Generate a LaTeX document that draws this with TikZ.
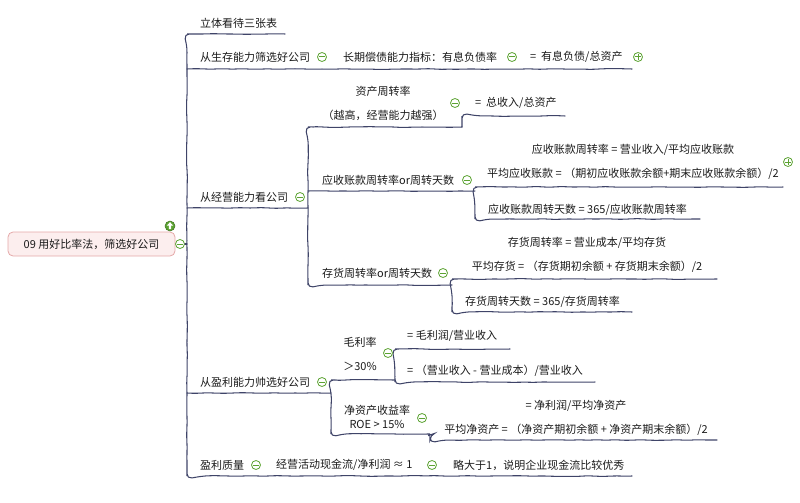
\documentclass[tikz,border=0pt]{standalone}
\usepackage{fontspec}
\setmainfont{Noto Sans CJK SC}
\usetikzlibrary{decorations.pathmorphing}
\definecolor{linec}{HTML}{3F4468}
\definecolor{txt}{HTML}{1A1A1A}
\definecolor{ig}{HTML}{5CA332}
\definecolor{rootfill}{HTML}{FCEEEE}
\definecolor{rootdraw}{HTML}{E5A8A8}
\begin{document}
\begin{tikzpicture}[x=1pt,y=-1pt,
  every node/.style={text=txt},
  lbl/.style={anchor=west, inner sep=0pt, font=\fontsize{11}{13}\selectfont},
  mlbl/.style={align=center, inner sep=0pt, font=\fontsize{11}{24}\selectfont},
  conn/.style={draw=linec, line width=1.05pt, rounded corners=5pt, line cap=round,
    decorate, decoration={random steps, segment length=9pt, amplitude=0.45pt}},
  minusicon/.style={circle, draw=ig, fill=white, line width=0.8pt, minimum size=9pt, inner sep=0pt,
    path picture={\draw[ig, line width=1pt] ([xshift=-2.6pt]path picture bounding box.center) -- ([xshift=2.6pt]path picture bounding box.center);}},
  plusicon/.style={circle, draw=ig, fill=white, line width=0.8pt, minimum size=9pt, inner sep=0pt,
    path picture={\draw[ig, line width=1pt] ([xshift=-2.6pt]path picture bounding box.center) -- ([xshift=2.6pt]path picture bounding box.center) ([yshift=-2.6pt]path picture bounding box.center) -- ([yshift=2.6pt]path picture bounding box.center);}},
]
\useasboundingbox (0,0) rectangle (800,503);

% ---------- connectors ----------
\coordinate (a1) at (285,34);
\coordinate (trT) at (187,34);
\coordinate (trB) at (187,476);
\coordinate (a5) at (632,476);
\coordinate (a2) at (632,69);
\coordinate (a3) at (308,208);
\coordinate (a4) at (331,393);
\coordinate (b1) at (462,127);
\coordinate (b1c) at (565,116);
\coordinate (bT) at (308,127);
\coordinate (bB) at (308,285);
\coordinate (b2) at (475,191);
\coordinate (b3) at (452,285);
\coordinate (c1) at (783,187);
\coordinate (c2) at (700,219);
\coordinate (d1) at (717,279);
\coordinate (d2) at (632,312);
\coordinate (e1) at (395,380);
\coordinate (e2) at (430,434);
\coordinate (e2c) at (717,440);
\coordinate (f1) at (510,349);
\coordinate (f2) at (595,382);

\draw[conn] (a1) -- (trT) -- (trB) -- (a5);
\draw[conn] (a2 -| trT) -- (a2);
\draw[conn] (a3 -| trT) -- (a3);
\draw[conn] (a4 -| trT) -- (a4);
\draw[conn] (b1) -- (bT) -- (bB) -- (b3);
\draw[conn] (b1) -- (b1 |- b1c) -- (b1c);
\draw[conn] (b2 -| bT) -- (b2);
\draw[conn] (c1) -- (c1 -| b2) -- (c2 -| b2) -- (c2);
\draw[conn] (d1) -- (d1 -| b3) -- (d2 -| b3) -- (d2);
\draw[conn] (e1) -- (e1 -| a4) -- (e2 -| a4) -- (e2) -- (e2 |- e2c) -- (e2c);
\draw[conn] (f1) -- (f1 -| e1) -- (f2 -| e1) -- (f2);

% ---------- root ----------
\node[draw=rootdraw, fill=rootfill, rounded corners=5pt, minimum width=167pt, minimum height=24pt,
  line width=0.8pt, font=\fontsize{11}{13}\selectfont] (root) at (91.5,244) {09 用好比率法，筛选好公司};
\node[minusicon] (rootm) at (180,244) {};
\draw[conn] (rootm.east) -- (rootm.east -| trT);
\node[circle, fill=ig, draw=ig!70!black, line width=0.5pt, minimum size=10pt, inner sep=0pt] (up) at (170,226) {};
\begin{scope}[shift={(up.center)}]
  \fill[white] (0,-3.8) -- (3.2,-0.4) -- (1.2,-0.4) -- (1.2,3.2) -- (-1.2,3.2) -- (-1.2,-0.4) -- (-3.2,-0.4) -- cycle;
\end{scope}

% ---------- level 1 ----------
\node[lbl] (n1) at (200,23) {立体看待三张表};
\node[lbl] (n2) at (200,57) {从生存能力筛选好公司};
\node[minusicon] (m2) at (322,57) {};
\node[lbl] (n2a) at (343,57) {长期偿债能力指标：有息负债率};
\node[minusicon] (m2a) at (512,57) {};
\node[lbl] (n2b) at (530,57) {=\ \ 有息负债/总资产};
\node[plusicon] (p2b) at (638,57) {};

\node[lbl] (n3) at (200,197) {从经营能力看公司};
\node[minusicon] (m3) at (300,197) {};
\node[mlbl] (n3a) at (383,103) {资产周转率\\（越高，经营能力越强）};
\node[minusicon] (m3a) at (455,103) {};
\node[lbl] (n3a1) at (475,103) {=\ \ 总收入/总资产};

\node[lbl] (n3b) at (322,180) {应收账款周转率or周转天数};
\node[minusicon] (m3b) at (467,180) {};
\node[mlbl] (n3b1) at (633,161.5) {应收账款周转率 = 营业收入/平均应收账款\\平均应收账款 = （期初应收账款余额+期末应收账款余额）/2};
\node[plusicon] (p3b1) at (788,162) {};
\node[lbl] (n3b2) at (488,210) {应收账款周转天数 = 365/应收账款周转率};

\node[lbl] (n3c) at (322,273) {存货周转率or周转天数};
\node[minusicon] (m3c) at (443,273) {};
\node[mlbl] (n3c1) at (587,255) {存货周转率 = 营业成本/平均存货\\平均存货 = （存货期初余额 + 存货期末余额）/2};
\node[lbl] (n3c2) at (465,302) {存货周转天数 = 365/存货周转率};

\node[lbl] (n4) at (200,382) {从盈利能力帅选好公司};
\node[minusicon] (m4) at (322,382) {};
\node[mlbl] (n4a) at (360,353.5) {毛利率\\＞30\%};
\node[minusicon] (m4a) at (388,353) {};
\node[lbl] (n4a1) at (407,336) {= 毛利润/营业收入};
\node[lbl] (n4a2) at (407,371) {= （营业收入 - 营业成本）/营业收入};
\node[align=center, inner sep=0pt, font=\fontsize{11}{14}\selectfont] (n4b) at (377,417) {净资产收益率\\ROE > 15\%};
\node[minusicon] (m4b) at (422,418) {};
\node[mlbl] (n4b1) at (576,418) {= 净利润/平均净资产\\平均净资产 = （净资产期初余额 + 净资产期末余额）/2};

\node[lbl] (n5) at (200,465) {盈利质量};
\node[minusicon] (m5) at (256,465) {};
\node[lbl] (n5a) at (276,465) {经营活动现金流/净利润 ≈ 1};
\node[minusicon] (m5a) at (432,465) {};
\node[lbl] (n5b) at (453,465) {略大于1，说明企业现金流比较优秀};
\end{tikzpicture}
\end{document}
